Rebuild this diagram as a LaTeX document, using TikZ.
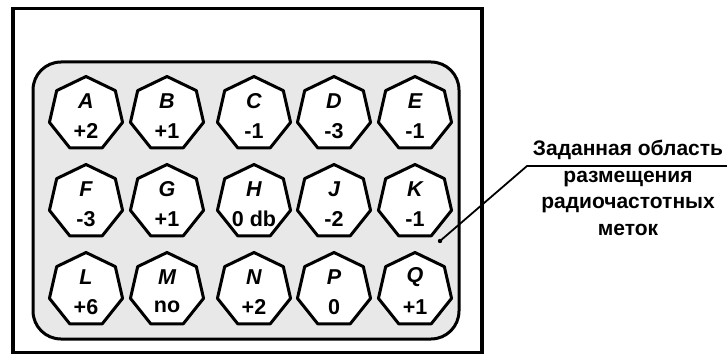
\documentclass[tikz,border=0pt]{standalone}
\usepackage{fontspec}
\setmainfont{Liberation Sans}
\usetikzlibrary{shapes.geometric}
\tikzset{
  hept/.style={regular polygon, regular polygon sides=7, minimum size=75pt, inner sep=0pt,
    draw=black, line width=3pt, fill=white, line join=round},
  lettxt/.style={font=\fontsize{21.5}{22}\selectfont\bfseries\itshape, inner sep=0pt},
  numtxt/.style={font=\fontsize{21.5}{22}\selectfont\bfseries, inner sep=0pt},
}
\newcommand{\tag}[5]{%
  \node[hept] (#1) at (#2,#3) {};
  \node[lettxt] (#1l) at ([yshift=13pt]#1.center) {#4};
  \node[numtxt] (#1n) at ([yshift=-17pt]#1.center) {#5};
}
\begin{document}
\begin{tikzpicture}[x=1pt,y=-1pt]
\useasboundingbox (0,0) rectangle (727,358);
\node[draw=black, line width=3.5pt, minimum width=469pt, minimum height=344pt, inner sep=0pt] (outer) at (247.5,180.5) {};
\node[draw=black, line width=3pt, fill=black!9, rounded corners=28pt, minimum width=426pt, minimum height=277pt, inner sep=0pt] (inner) at (246,200.5) {};
\tag{A}{86}{114}{A}{+2}
\tag{B}{167}{114}{B}{+1}
\tag{C}{254}{114}{C}{-1}
\tag{D}{334}{114}{D}{-3}
\tag{E}{415}{114}{E}{-1}
\tag{F}{86}{202}{F}{-3}
\tag{G}{167}{202}{G}{+1}
\tag{H}{254}{202}{H}{0 db}
\tag{J}{334}{202}{J}{-2}
\tag{K}{415}{202}{K}{-1}
\tag{L}{86}{290}{L}{+6}
\tag{M}{167}{290}{M}{no}
\tag{N}{254}{290}{N}{+2}
\tag{P}{334}{290}{P}{0}
\tag{Q}{415}{290}{Q}{+1}
\coordinate (dot) at (440,241);
\coordinate (bend) at (527,166);
\coordinate (lend) at (727,166);
\fill (dot) circle (2.2pt);
\draw[line width=1.8pt] (dot) -- (bend) -- (lend);
\node[anchor=base, align=center, inner sep=0pt, font=\fontsize{21}{26.5}\selectfont\bfseries] (lbl) at (628,235) {Заданная область\\размещения\\радиочастотных\\меток};
\end{tikzpicture}
\end{document}
